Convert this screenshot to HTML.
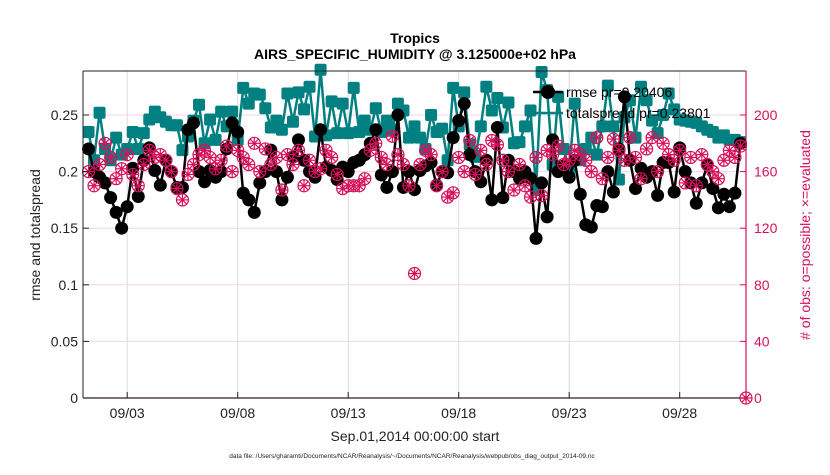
<!DOCTYPE html>
<html><head><meta charset="utf-8"><style>
body{margin:0;background:#fff;}
svg{font-family:"Liberation Sans",sans-serif;}
</style></head><body>
<svg id="chart" width="830" height="470" viewBox="0 0 830 470">
<rect width="830" height="470" fill="#fff"/>
<g id="grid"></g><g id="series"></g><g id="axes"></g>
<text x="415" y="43" text-anchor="middle" font-size="14" font-weight="bold">Tropics</text>
<text x="415" y="59" text-anchor="middle" font-size="14" font-weight="bold">AIRS_SPECIFIC_HUMIDITY @ 3.125000e+02 hPa</text>
<text x="415" y="441" text-anchor="middle" font-size="14" fill="#222">Sep.01,2014 00:00:00 start</text>
<text x="412" y="458" text-anchor="middle" font-size="6.5" fill="#222">data file: /Users/gharamti/Documents/NCAR/Reanalysis/~/Documents/NCAR/Reanalysis/webpub/obs_diag_output_2014-09.nc</text>
<text transform="translate(40,235) rotate(-90)" text-anchor="middle" font-size="14" fill="#222">rmse and totalspread</text>
<text transform="translate(810,235) rotate(-90)" text-anchor="middle" font-size="14" fill="#d6115a"># of obs: o=possible; ×=evaluated</text>
<g id="legend"></g>
</svg>
<script>
const leftTicks=[0,0.05,0.1,0.15,0.2,0.25];
const leftTickLabels=["0","0.05","0.1","0.15","0.2","0.25"];
const rightTicks=[0,40,80,120,160,200];
const dateTickDays=[2,7,12,17,22,27];
const dateTickLabels=["09/03","09/08","09/13","09/18","09/23","09/28"];
const spread=[
0.235,0.21,0.252,0.22,0.21,0.23,0.215,0.22,0.235,0.22,
0.234,0.246,0.253,0.248,0.244,0.241,0.241,0.219,0.231,0.245,
0.259,0.225,0.246,0.228,0.253,0.24,0.253,0.228,0.274,0.26,
0.269,0.268,0.256,0.239,0.245,0.237,0.269,0.244,0.27,0.255,
0.275,0.231,0.29,0.232,0.262,0.234,0.26,0.234,0.274,0.235,
0.245,0.237,0.256,0.235,0.245,0.237,0.26,0.254,0.23,0.24,
0.23,0.22,0.25,0.235,0.238,0.21,0.274,0.24,0.27,0.224,
0.213,0.24,0.275,0.254,0.265,0.239,0.261,0.225,0.226,0.24,
0.254,0.184,0.288,0.272,0.206,0.266,0.22,0.2,0.26,0.21,
0.22,0.23,0.215,0.24,0.276,0.24,0.193,0.248,0.263,0.23,
0.275,0.263,0.245,0.234,0.25,0.269,0.255,0.246,0.245,0.244,
0.243,0.24,0.237,0.235,0.23,0.232,0.228,0.228,0.226,null];
const rmse=[
0.22,0.2,0.195,0.19,0.177,0.164,0.15,0.169,0.203,0.178,
0.21,0.221,0.201,0.188,0.21,0.2,0.186,0.186,0.237,0.243,
0.2,0.191,0.201,0.195,0.2,0.22,0.243,0.235,0.181,0.175,
0.164,0.19,0.2,0.219,0.2,0.175,0.195,0.213,0.228,0.21,
0.2,0.195,0.237,0.204,0.201,0.193,0.204,0.2,0.208,0.21,
0.215,0.225,0.237,0.197,0.186,0.2,0.25,0.186,0.2,0.184,
0.201,0.205,0.208,0.188,0.2,0.199,0.23,0.245,0.26,0.215,
0.2,0.191,0.21,0.175,0.239,0.177,0.21,0.2,0.194,0.2,
0.194,0.141,0.19,0.16,0.228,0.2,0.205,0.195,0.21,0.18,
0.153,0.151,0.17,0.169,0.2,0.182,0.22,0.266,0.21,0.185,
0.203,0.195,0.2,0.179,0.208,0.208,0.182,0.221,0.2,0.19,
0.172,0.19,0.206,0.185,0.168,0.18,0.169,0.181,0.225,null];
const obsPossible=[
160,150,165,180,170,155,162,172,158,150,
165,175,170,172,168,160,148,140,158,165,
172,175,170,162,168,178,160,175,170,165,
180,160,176,165,170,147,172,165,175,150,
168,160,162,175,170,158,148,150,150,150,
155,175,180,170,165,185,172,165,150,88,
165,175,172,150,160,142,145,170,160,182,
158,175,165,182,179,168,160,147,165,150,
142,170,143,175,172,178,165,168,175,172,
168,160,184,155,170,183,175,168,184,170,
155,176,184,160,180,172,168,175,152,170,
150,172,165,160,155,168,175,170,178,0];
const obsEvaluated=obsPossible.slice();
const X0=83,X1=746,Y0=398;
function xDay(d){return X0+(X1-X0)*d/30;}
function xIdx(i){return xDay((i+1)/4);}
function yL(v){return Y0-v*1132;}
function yR(v){return Y0-v*1.415;}
const NS="http://www.w3.org/2000/svg";
function mk(t,a,p){const e=document.createElementNS(NS,t);for(const k in a)e.setAttribute(k,a[k]);p.appendChild(e);return e;}
const grid=document.getElementById('grid'),ser=document.getElementById('series'),ax=document.getElementById('axes'),leg=document.getElementById('legend');
rightTicks.forEach(t=>{const l=mk('line',{x1:X0,x2:X1,y1:yR(t),y2:yR(t),stroke:'#f6d3e0','stroke-width':1},grid);

});
dateTickDays.forEach((d,i)=>{const l=mk('line',{x1:xDay(d),x2:xDay(d),y1:71,y2:Y0,stroke:'#ddd','stroke-width':1},grid);


const t=mk('text',{x:xDay(d),y:Y0+20,'text-anchor':'middle','font-size':14,fill:'#222'},ax);t.textContent=dateTickLabels[i];


mk('line',{x1:xDay(d),x2:xDay(d),y1:Y0,y2:Y0-6,stroke:'#222'},ax);});
function poly(arr,f){let s='';arr.forEach((v,i)=>{if(v!=null)s+=xIdx(i)+','+f(v)+' ';});return s;}
const pl=mk('polyline',{points:poly(spread,yL),fill:'none',stroke:'#008080','stroke-width':2.5},ser);


spread.forEach((v,i)=>{if(v==null)return;const r=mk('rect',{x:xIdx(i)-6,y:yL(v)-6,width:12,height:12,rx:2,fill:'#008080'},ser);

});
const pr=mk('polyline',{points:poly(rmse,yL),fill:'none',stroke:'#000','stroke-width':2.5},ser);


rmse.forEach((v,i)=>{if(v==null)return;const c=mk('circle',{cx:xIdx(i),cy:yL(v),r:6.5,fill:'#000'},ser);

});
obsPossible.forEach((v,i)=>{const c=mk('circle',{cx:xIdx(i),cy:yR(v),r:6,fill:'none',stroke:'#d6115a','stroke-width':1.2},ser);

});
obsEvaluated.forEach((v,i)=>{const x=xIdx(i),y=yR(v),g=mk('g',{stroke:'#d6115a','stroke-width':1.2},ser);


mk('line',{x1:x-6,x2:x+6,y1:y,y2:y},g);mk('line',{x1:x,x2:x,y1:y-6,y2:y+6},g);
mk('line',{x1:x-4.2,x2:x+4.2,y1:y-4.2,y2:y+4.2},g);mk('line',{x1:x-4.2,x2:x+4.2,y1:y+4.2,y2:y-4.2},g);});
mk('line',{x1:X0,x2:X1,y1:71,y2:71,stroke:'#222'},ax);
mk('line',{x1:X0,x2:X1,y1:Y0,y2:Y0,stroke:'#3a1a2a','stroke-width':1.2},ax);
mk('line',{x1:X0,x2:X0,y1:71,y2:Y0,stroke:'#222'},ax);
mk('line',{x1:X1,x2:X1,y1:71,y2:Y0,stroke:'#d6115a','stroke-width':1.2},ax);
leftTicks.forEach((t,i)=>{mk('line',{x1:X0,x2:X0+6,y1:yL(t),y2:yL(t),stroke:'#222'},ax);
const tx=mk('text',{x:X0-5,y:yL(t)+5,'text-anchor':'end','font-size':14,fill:'#222'},ax);tx.textContent=leftTickLabels[i];

});
rightTicks.forEach(t=>{mk('line',{x1:X1-6,x2:X1,y1:yR(t),y2:yR(t),stroke:'#d6115a'},ax);
const tx=mk('text',{x:X1+8,y:yR(t)+5,'font-size':14,fill:'#d6115a'},ax);tx.textContent=String(t);

});
ser.parentNode.appendChild(leg);
mk('line',{x1:533,y1:92,x2:563,y2:92,stroke:'#000','stroke-width':2.5},leg);
mk('circle',{cx:548,cy:92,r:7,fill:'#000'},leg);
const t1=mk('text',{x:566,y:97,'font-size':14},leg);t1.textContent='rmse pr=0.20406';


mk('line',{x1:533,y1:113,x2:563,y2:113,stroke:'#008080','stroke-width':2.5},leg);
const t2=mk('text',{x:566,y:118,'font-size':14},leg);t2.textContent='totalspread pr=0.23801';


</script>
</body></html>
